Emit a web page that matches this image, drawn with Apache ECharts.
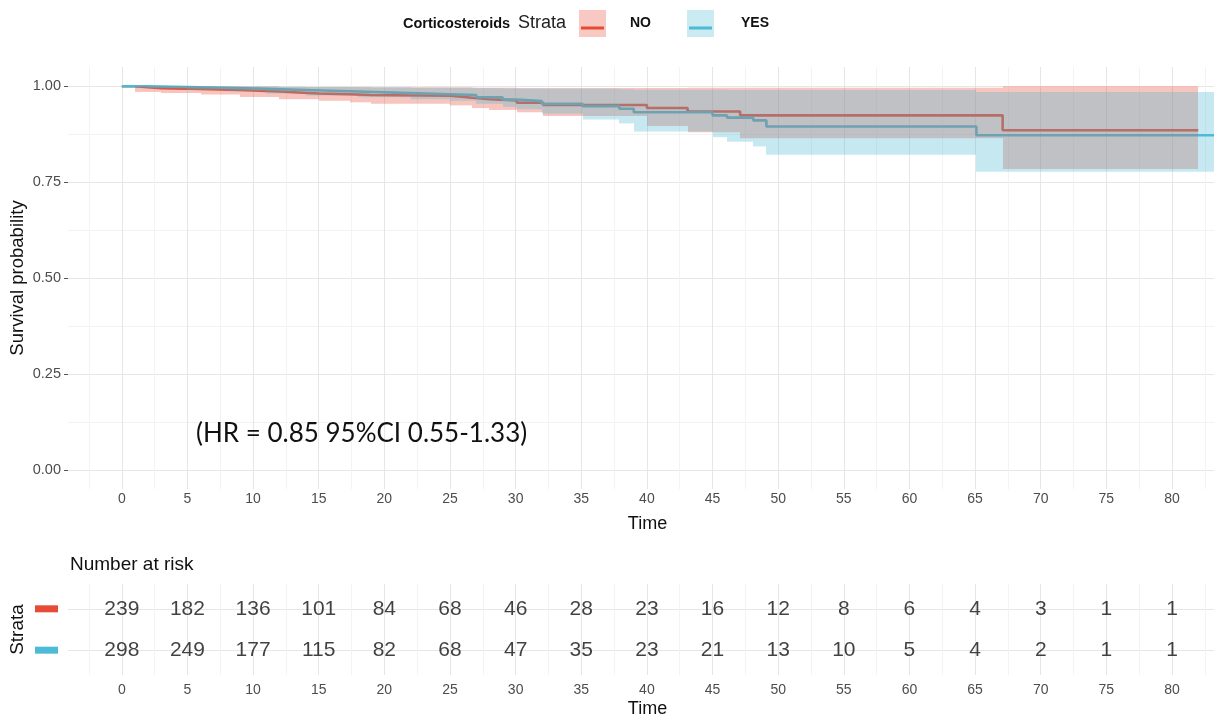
<!DOCTYPE html>
<html><head><meta charset="utf-8">
<script src="https://cdn.jsdelivr.net/npm/echarts@6/dist/echarts.min.js"></script>
<style>html,body{margin:0;padding:0;background:#fff}#c{width:1214px;height:719px}</style>
</head><body><div id="c"></div>
<script>
// ---- data ----
const noTime  = [0, 1, 3, 6, 9, 12, 15, 17.4, 19, 25, 26.7, 28, 30.1, 32.1, 40, 43.1, 47.1, 67.1, 82];
const noSurv  = [1, 0.995, 0.993, 0.990, 0.986, 0.981, 0.979, 0.977, 0.975, 0.970, 0.966, 0.963, 0.957, 0.951, 0.943, 0.934, 0.924, 0.885, 0.885];
const noLower = [1, 0.985, 0.982, 0.978, 0.972, 0.966, 0.962, 0.958, 0.954, 0.950, 0.943, 0.938, 0.932, 0.922, 0.896, 0.880, 0.864, 0.784, 0.784];
const noUpper = [1, 1, 1, 0.999, 0.999, 0.998, 0.998, 0.998, 0.997, 0.997, 0.996, 0.996, 0.995, 0.995, 0.995, 0.996, 0.996, 1, 1];

const yesTime  = [0, 2, 5, 8, 11, 14, 18, 22, 25, 27, 29, 30.1, 32, 35.1, 37.9, 39, 45, 46.1, 48.1, 49.1, 65.1, 84];
const yesSurv  = [1, 0.998, 0.996, 0.993, 0.990, 0.986, 0.982, 0.979, 0.977, 0.971, 0.965, 0.961, 0.954, 0.948, 0.941, 0.932, 0.924, 0.918, 0.911, 0.895, 0.872, 0.872];
const yesLower = [1, 0.994, 0.990, 0.986, 0.981, 0.976, 0.971, 0.966, 0.962, 0.954, 0.946, 0.940, 0.928, 0.913, 0.903, 0.882, 0.867, 0.855, 0.843, 0.821, 0.777, 0.777];
const yesUpper = [1, 1, 1, 0.999, 0.999, 0.998, 0.997, 0.996, 0.996, 0.995, 0.994, 0.994, 0.993, 0.993, 0.992, 0.991, 0.991, 0.990, 0.990, 0.990, 0.985, 0.985];

const riskTimes = [0, 5, 10, 15, 20, 25, 30, 35, 40, 45, 50, 55, 60, 65, 70, 75, 80];
const riskNo  = [239, 182, 136, 101, 84, 68, 46, 28, 23, 16, 12, 8, 6, 4, 3, 1, 1];
const riskYes = [298, 249, 177, 115, 82, 68, 47, 35, 23, 21, 13, 10, 5, 4, 2, 1, 1];

const xMajor = [0, 5, 10, 15, 20, 25, 30, 35, 40, 45, 50, 55, 60, 65, 70, 75, 80];
const xMinor = [-2.5, 2.5, 7.5, 12.5, 17.5, 22.5, 27.5, 32.5, 37.5, 42.5, 47.5, 52.5, 57.5, 62.5, 67.5, 72.5, 77.5, 82.5];
const yMajor = [0, 0.25, 0.5, 0.75, 1];
const yMinor = [0.125, 0.375, 0.625, 0.875];

const RED = '#E64B35', BLUE = '#4DBBD5';
const FONT = "'Liberation Sans', Arial, sans-serif";
const MAJ = '#E6E6E6', MIN = '#F3F3F3';
const BAND_ALPHA = 0.32;

const zip = (a, b) => a.map((v, i) => [v, b[i]]);
// one item per step segment: [start, end, lower, upper]
const segs = (t, lo, hi) => t.slice(0, -1).map((v, i) => [v, t[i + 1], lo[i], hi[i]]);

const X0 = -4.1, X1 = 83.2;

function majorX(grid, gap, margin) {
  return {gridIndex: grid, type: 'value', min: X0, max: X1,
    axisLine: {show: false, onZero: false}, axisTick: {show: false, customValues: xMajor},
    axisLabel: {customValues: xMajor, margin: margin, fontSize: 14, color: '#4D4D4D', fontFamily: FONT},
    splitLine: {show: true, lineStyle: {color: MAJ, width: 1}},
    name: 'Time', nameLocation: 'middle', nameGap: gap, nameMoveOverlap: false,
    nameTextStyle: {fontSize: 18, color: '#111', fontFamily: FONT, padding: [0, 0, 0, 13]}};
}
function minorX(grid) {
  return {gridIndex: grid, type: 'value', min: X0, max: X1, position: 'bottom',
    axisLine: {show: false, onZero: false}, axisTick: {show: false, customValues: xMinor},
    axisLabel: {show: false}, splitLine: {show: true, lineStyle: {color: MIN, width: 1}}};
}
function bandItem(color) {
  return function (params, api) {
    const cs = params.coordSys;
    const a = api.coord([api.value(0), api.value(3)]);
    const b = api.coord([api.value(1), api.value(2)]);
    const x0 = Math.round(Math.max(a[0], cs.x));
    const x1 = Math.round(Math.min(b[0], cs.x + cs.width));
    if (x1 <= x0) return null;
    return {type: 'rect', shape: {x: x0, y: a[1], width: x1 - x0, height: b[1] - a[1]},
            style: {fill: color, opacity: BAND_ALPHA}};
  };
}

const option = {
  animation: false,
  backgroundColor: '#fff',
  textStyle: {fontFamily: FONT},
  title: [
    {text: 'Corticosteroids', left: 403, top: 16, padding: 0, textStyle: {fontSize: 14.5, fontWeight: 'bold', color: '#111', fontFamily: FONT}},
    {text: 'Strata', left: 518, top: 14, padding: 0, textStyle: {fontSize: 18, fontWeight: 'normal', color: '#222', fontFamily: FONT}},
    {text: 'Number at risk', left: 70, top: 555, padding: 0, textStyle: {fontSize: 19, fontWeight: 'normal', color: '#111', fontFamily: FONT}}
  ],
  legend: [
    {left: 579, top: 10, padding: 0, itemWidth: 27, itemHeight: 27, icon: 'rect', selectedMode: false,
     data: [{name: 'NO', itemStyle: {color: '#F8C9C2', borderWidth: 0}}],
     textStyle: {fontSize: 14, fontWeight: 'bold', color: '#111', padding: [0, 0, 0, 19], fontFamily: FONT}},
    {left: 581, top: 22, padding: 0, itemWidth: 23, itemHeight: 3, icon: 'rect', selectedMode: false,
     data: [{name: 'NO', itemStyle: {color: RED, borderWidth: 0}}],
     textStyle: {color: 'rgba(0,0,0,0)'}},
    {left: 687, top: 10, padding: 0, itemWidth: 27, itemHeight: 27, icon: 'rect', selectedMode: false,
     data: [{name: 'YES', itemStyle: {color: '#CAEBF2', borderWidth: 0}}],
     textStyle: {fontSize: 14, fontWeight: 'bold', color: '#111', padding: [0, 0, 0, 22], fontFamily: FONT}},
    {left: 689, top: 22, padding: 0, itemWidth: 23, itemHeight: 3, icon: 'rect', selectedMode: false,
     data: [{name: 'YES', itemStyle: {color: BLUE, borderWidth: 0}}],
     textStyle: {color: 'rgba(0,0,0,0)'}}
  ],
  grid: [
    {left: 68, right: 0, top: 67, height: 422, outerBoundsMode: 'none', containLabel: false},
    {left: 68, right: 0, top: 584, height: 91, outerBoundsMode: 'none', containLabel: false}
  ],
  xAxis: [majorX(0, 26, 3), minorX(0), majorX(1, 25, 8), minorX(1)],
  yAxis: [
    {gridIndex: 0, type: 'value', min: -0.05, max: 1.05,
     axisLine: {show: false, onZero: false},
     axisTick: {show: true, length: 4, customValues: yMajor, lineStyle: {color: '#555', width: 1}},
     axisLabel: {customValues: yMajor, margin: 7, fontSize: 14.5, color: '#4D4D4D', fontFamily: FONT, formatter: v => v.toFixed(2)},
     splitLine: {show: true, lineStyle: {color: MAJ, width: 1}},
     name: 'Survival probability', nameLocation: 'middle', nameGap: 41, nameMoveOverlap: false,
     nameTextStyle: {fontSize: 18.5, color: '#111', fontFamily: FONT}},
    {gridIndex: 0, type: 'value', min: -0.05, max: 1.05,
     axisLine: {show: false, onZero: false}, axisTick: {show: false, customValues: yMinor}, axisLabel: {show: false},
     splitLine: {show: true, lineStyle: {color: MIN, width: 1}}},
    {gridIndex: 1, type: 'value', min: 0.4, max: 2.6,
     axisLine: {show: false, onZero: false}, axisTick: {show: false, customValues: [1, 2]},
     axisLabel: {customValues: [1, 2], margin: 10,
       formatter: v => v === 2 ? '{r| }' : '{b| }',
       rich: {r: {backgroundColor: RED, width: 23, height: 7, fontSize: 1, lineHeight: 7},
              b: {backgroundColor: BLUE, width: 23, height: 7, fontSize: 1, lineHeight: 7}}},
     splitLine: {show: true, lineStyle: {color: MAJ, width: 1}},
     name: 'Strata', nameLocation: 'middle', nameGap: 41, nameMoveOverlap: false,
     nameTextStyle: {fontSize: 19, color: '#111', fontFamily: FONT}}
  ],
  graphic: [
    {type: 'text', left: 196, top: 421, z: 10,
     style: {text: '(HR = 0.85 95%CI 0.55-1.33)', font: "26px Lato, 'Liberation Sans', sans-serif", fill: '#111'}}
  ],
  series: [
    {name: 'NO', type: 'line', xAxisIndex: 0, yAxisIndex: 0, step: 'end', symbol: 'none', silent: true, z: 2,
     lineStyle: {color: RED, width: 2.6}, itemStyle: {color: RED}, data: zip(noTime, noSurv)},
    {name: 'YES', type: 'line', xAxisIndex: 0, yAxisIndex: 0, step: 'end', symbol: 'none', silent: true, z: 2,
     lineStyle: {color: BLUE, width: 2.6}, itemStyle: {color: BLUE}, data: zip(yesTime, yesSurv)},
    {name: 'NO CI', type: 'custom', xAxisIndex: 0, yAxisIndex: 0, silent: true, z: 3,
     renderItem: bandItem(RED), encode: {x: [0, 1], y: [2, 3]}, data: segs(noTime, noLower, noUpper)},
    {name: 'YES CI', type: 'custom', xAxisIndex: 0, yAxisIndex: 0, silent: true, z: 3,
     renderItem: bandItem(BLUE), encode: {x: [0, 1], y: [2, 3]}, data: segs(yesTime, yesLower, yesUpper)},
    {name: 'risk NO', type: 'scatter', xAxisIndex: 2, yAxisIndex: 2, symbolSize: 1, silent: true,
     itemStyle: {color: 'rgba(0,0,0,0)'},
     label: {show: true, position: 'inside', formatter: p => p.value[2], fontSize: 21, color: '#111', fontFamily: FONT},
     data: riskTimes.map((t, i) => [t, 2, riskNo[i]])},
    {name: 'risk YES', type: 'scatter', xAxisIndex: 2, yAxisIndex: 2, symbolSize: 1, silent: true,
     itemStyle: {color: 'rgba(0,0,0,0)'},
     label: {show: true, position: 'inside', formatter: p => p.value[2], fontSize: 21, color: '#111', fontFamily: FONT},
     data: riskTimes.map((t, i) => [t, 1, riskYes[i]])}
  ]
};
const chart = echarts.init(document.getElementById('c'));
chart.setOption(option);
</script></body></html>
